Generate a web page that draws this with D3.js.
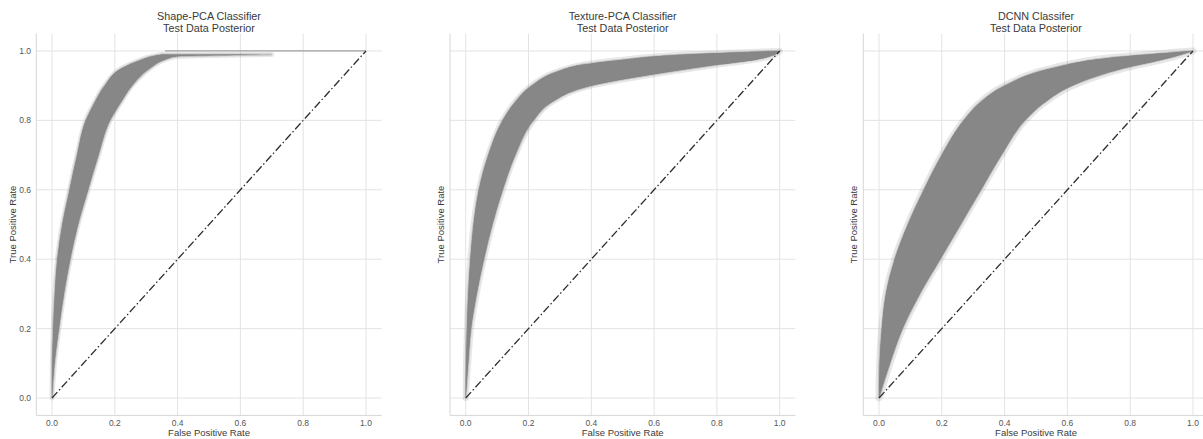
<!DOCTYPE html>
<html>
<head>
<meta charset="utf-8">
<script src="https://cdn.jsdelivr.net/npm/d3@7"></script>
<style>
  body { margin: 0; background: #fff; }
  text { font-family: "Liberation Sans", Arial, sans-serif; }
</style>
</head>
<body>
<div id="chart"></div>
<script>
// ROC bundles: for each true positive rate, the
// left (lo) and right (hi) false positive rate of the dense band of curves
const titles = [
	['Shape-PCA Classifier', 'Test Data Posterior'],
	['Texture-PCA Classifier', 'Test Data Posterior'],
	['DCNN Classifer', 'Test Data Posterior']
];
const xTicks = [0.0, 0.2, 0.4, 0.6, 0.8, 1.0];
const yTicks = [0.0, 0.2, 0.4, 0.6, 0.8, 1.0];

const shapeTpr = [0, 0.1, 0.2, 0.3, 0.4, 0.5, 0.6, 0.7, 0.8, 0.85, 0.9, 0.95, 0.975, 0.985, 0.99];
const shapeLo  = [0, 0.001, 0.004, 0.009, 0.017, 0.033, 0.056, 0.08, 0.108, 0.135, 0.168, 0.222, 0.285, 0.32, 0.35];
const shapeHi  = [0, 0.008, 0.022, 0.038, 0.058, 0.083, 0.115, 0.148, 0.185, 0.218, 0.255, 0.312, 0.36, 0.4, 0.7];
const shapeTop = [0.36, 1.0]; // fpr span of the curves running along tpr = 1

const texTpr = [0, 0.1, 0.2, 0.3, 0.4, 0.5, 0.6, 0.7, 0.8, 0.85, 0.9, 0.94, 0.96, 0.975, 0.99, 1.0];
const texLo  = [0, 0.001, 0.004, 0.008, 0.015, 0.025, 0.042, 0.072, 0.118, 0.155, 0.21, 0.29, 0.37, 0.5, 0.7, 1.0];
const texHi  = [0, 0.008, 0.017, 0.035, 0.058, 0.085, 0.118, 0.158, 0.216, 0.27, 0.4, 0.65, 0.8, 0.925, 0.985, 1.0];

const dcTpr = [0, 0.1, 0.2, 0.3, 0.4, 0.5, 0.6, 0.7, 0.8, 0.85, 0.9, 0.95, 0.98, 1.0];
const dcLo  = [0, 0.002, 0.009, 0.022, 0.05, 0.092, 0.143, 0.2, 0.27, 0.32, 0.4, 0.55, 0.73, 1.0];
const dcHi  = [0, 0.035, 0.075, 0.13, 0.195, 0.26, 0.325, 0.39, 0.465, 0.525, 0.615, 0.78, 0.925, 1.0];

const bands = [
	{tpr: shapeTpr, lo: shapeLo, hi: shapeHi, top: shapeTop, fuzz: 5},
	{tpr: texTpr, lo: texLo, hi: texHi, top: null, fuzz: 6},
	{tpr: dcTpr, lo: dcLo, hi: dcHi, top: null, fuzz: 7}
];

const width = 1203,
	height = 439;
const axLeft = [36.3, 450, 863.3],
	axWidth = 345.4,
	axTop = 33.6,
	axBottom = 415.4;
const bandColor = '#878787',
	gridColor = '#e3e3e3',
	textColor = '#3a3a3a';

const svg = d3.select('#chart').append('svg')
	.attr('width', width)
	.attr('height', height);

bands.forEach(function(b, p) {
	let x = d3.scaleLinear().domain([-0.05, 1.05]).range([axLeft[p], axLeft[p] + axWidth]);
	let y = d3.scaleLinear().domain([-0.05, 1.05]).range([axBottom, axTop]);
	let g = svg.append('g').attr('class', 'panel');

	// grid
	g.selectAll('.vgrid').data(xTicks).enter().append('line')
		.attr('x1', d => x(d)).attr('x2', d => x(d))
		.attr('y1', axTop).attr('y2', axBottom)
		.attr('stroke', gridColor).attr('stroke-width', 1);
	g.selectAll('.hgrid').data(yTicks).enter().append('line')
		.attr('x1', axLeft[p]).attr('x2', axLeft[p] + axWidth)
		.attr('y1', d => y(d)).attr('y2', d => y(d))
		.attr('stroke', gridColor).attr('stroke-width', 1);

	// spines (left and bottom only)
	g.append('line').attr('x1', axLeft[p]).attr('x2', axLeft[p])
		.attr('y1', axTop).attr('y2', axBottom).attr('stroke', '#d6d6d6');
	g.append('line').attr('x1', axLeft[p]).attr('x2', axLeft[p] + axWidth)
		.attr('y1', axBottom).attr('y2', axBottom).attr('stroke', '#d6d6d6');

	// the bundle of ROC curves: soft outer edge, then dense core
	let rows = b.tpr.map((t, i) => ({tpr: t, lo: b.lo[i], hi: b.hi[i]}));
	let area = d3.area()
		.y(d => y(d.tpr))
		.x0(d => x(d.lo))
		.x1(d => x(d.hi))
		.curve(d3.curveMonotoneY);
	g.append('path').datum(rows)
		.attr('d', area)
		.attr('fill', bandColor)
		.attr('stroke', bandColor)
		.attr('stroke-opacity', 0.2)
		.attr('stroke-width', b.fuzz)
		.attr('stroke-linejoin', 'round');
	g.append('path').datum(rows)
		.attr('d', area)
		.attr('fill', bandColor)
		.attr('stroke', bandColor)
		.attr('stroke-opacity', 0.4)
		.attr('stroke-width', 2);
	if (b.top) {
		g.append('line')
			.attr('x1', x(b.top[0])).attr('x2', x(b.top[1]))
			.attr('y1', y(1)).attr('y2', y(1))
			.attr('stroke', bandColor).attr('stroke-opacity', 0.75)
			.attr('stroke-width', 1.2);
	}

	// chance line
	g.append('line')
		.attr('x1', x(0)).attr('y1', y(0))
		.attr('x2', x(1)).attr('y2', y(1))
		.attr('stroke', '#2e2e2e').attr('stroke-width', 1.3)
		.attr('stroke-dasharray', '8,2.5,1.5,2.5');

	// tick labels
	g.selectAll('.xtick').data(xTicks).enter().append('text')
		.attr('x', d => x(d)).attr('y', 426)
		.attr('text-anchor', 'middle')
		.attr('font-size', 8.5).attr('fill', '#555')
		.text(d => d.toFixed(1));
	if (p === 0) {
		g.selectAll('.ytick').data(yTicks).enter().append('text')
			.attr('x', 31).attr('y', d => y(d))
			.attr('dy', '0.35em')
			.attr('text-anchor', 'end')
			.attr('font-size', 8.5).attr('fill', '#555')
			.text(d => d.toFixed(1));
	}

	// axis labels
	g.append('text')
		.attr('x', x(0.5)).attr('y', 436)
		.attr('text-anchor', 'middle')
		.attr('font-size', 9.5).attr('fill', textColor)
		.text('False Positive Rate');
	let ylx = p === 0 ? 16 : axLeft[p] - 6;
	g.append('text')
		.attr('transform', `translate(${ylx},${y(0.5)}) rotate(-90)`)
		.attr('text-anchor', 'middle')
		.attr('font-size', 9.5).attr('fill', textColor)
		.text('True Positive Rate');

	// title
	g.selectAll('.title').data(titles[p]).enter().append('text')
		.attr('x', x(0.5)).attr('y', (d, i) => 19.5 + 12 * i)
		.attr('text-anchor', 'middle')
		.attr('font-size', 10.8).attr('fill', textColor)
		.text(d => d);
});
</script>
</body>
</html>
